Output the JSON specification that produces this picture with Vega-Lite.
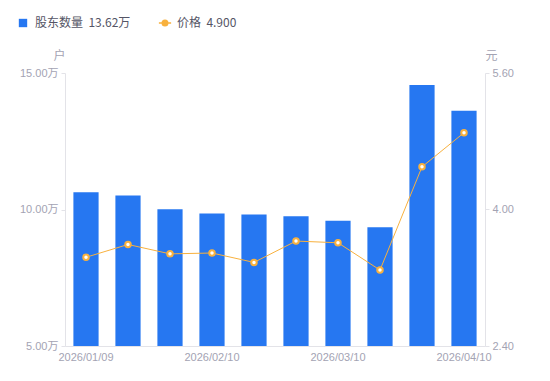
{
  "$schema": "https://vega.github.io/schema/vega-lite/v6.json",
  "autosize": {"type": "none"},
  "width": 420,
  "height": 273,
  "padding": {"left": 65, "top": 73, "right": 65, "bottom": 35},
  "background": "white",
  "config": {
    "view": {"stroke": null},
    "font": "Liberation Sans, Noto Sans CJK SC, sans-serif",
    "axis": {"labelFont": "Liberation Sans, Noto Sans CJK SC, sans-serif", "titleFont": "Noto Sans CJK SC, sans-serif"}
  },
  "data": {
    "values": [
      {"date": "2026/01/09", "holders": 10.63, "price": 3.44},
      {"date": "2026/01/20", "holders": 10.51, "price": 3.59},
      {"date": "2026/01/31", "holders": 10.01, "price": 3.48},
      {"date": "2026/02/10", "holders": 9.85, "price": 3.49},
      {"date": "2026/02/20", "holders": 9.82, "price": 3.38},
      {"date": "2026/02/28", "holders": 9.75, "price": 3.63},
      {"date": "2026/03/10", "holders": 9.59, "price": 3.61},
      {"date": "2026/03/20", "holders": 9.35, "price": 3.29},
      {"date": "2026/03/31", "holders": 14.56, "price": 4.50},
      {"date": "2026/04/10", "holders": 13.62, "price": 4.90}
    ]
  },
  "encoding": {
    "x": {
      "field": "date",
      "type": "ordinal",
      "sort": null,
      "scale": {"paddingInner": 0.4, "paddingOuter": 0.2},
      "axis": {
        "title": null,
        "values": ["2026/01/09", "2026/02/10", "2026/03/10", "2026/04/10"],
        "labelAngle": 0,
        "labelColor": "#a3a3b3",
        "labelFontSize": 11,
        "labelPadding": 5,
        "ticks": false,
        "domainColor": "#e3e3e8",
        "grid": false
      }
    }
  },
  "layer": [
    {
      "mark": {"type": "bar", "color": "#2677F1", "clip": true},
      "encoding": {
        "y": {
          "field": "holders",
          "type": "quantitative",
          "scale": {"domain": [5, 15], "zero": false, "nice": false},
          "axis": {
            "values": [5, 10, 15],
            "labelExpr": "format(datum.value, '.2f') + '万'",
            "labelColor": "#a3a3b3",
            "labelFontSize": 11,
            "labelPadding": 3,
            "tickSize": 4,
            "tickColor": "#e3e3e8",
            "domainColor": "#e3e3e8",
            "grid": false,
            "title": "户",
            "titleAngle": 0,
            "titleColor": "#a3a3b3",
            "titleFontSize": 12,
            "titleFontWeight": "normal",
            "titleX": -6,
            "titleY": -11,
            "titleAlign": "center"
          }
        },
        "color": {
          "datum": "股东数量  13.62万",
          "type": "nominal",
          "scale": {"domain": ["股东数量  13.62万", "价格  4.900"], "range": ["#2677F1", "#F8B13E"]},
          "legend": {
            "title": null,
            "orient": "none",
            "legendX": -48,
            "legendY": -56,
            "direction": "horizontal",
            "columnPadding": 24,
            "labelFontSize": 12,
            "labelColor": "#555566",
            "labelFont": "Noto Sans CJK SC, sans-serif",
            "labelOffset": 6,
            "symbolSize": 70,
            "encode": {
              "labels": {
                "update": {
                  "text": {"signal": "replace(datum.label, '  ', '\u00a0\u00a0')"}
                }
              },
              "symbols": {
                "update": {
                  "shape": {"signal": "datum.value == '价格  4.900' ? 'M-1,0H-0.45M0.45,0H1M0.45,0A0.45,0.45 0 1,1 -0.45,0A0.45,0.45 0 1,1 0.45,0Z' : 'square'"},
                  "fill": {"signal": "datum.value == '价格  4.900' ? '#ffffff' : '#2677F1'"},
                  "fillOpacity": {"value": 1},
                  "stroke": {"signal": "datum.value == '价格  4.900' ? '#F8B13E' : '#2677F1'"},
                  "strokeWidth": {"signal": "datum.value == '价格  4.900' ? 1.5 : 0"},
                  "size": {"signal": "datum.value == '价格  4.900' ? 150 : 70"}
                }
              }
            }
          }
        }
      }
    },
    {
      "mark": {"type": "line", "strokeWidth": 1, "color": "#F8B13E"},
      "encoding": {
        "y": {
          "field": "price",
          "type": "quantitative",
          "scale": {"domain": [2.4, 5.6], "zero": false, "nice": false},
          "axis": {
            "orient": "right",
            "values": [2.4, 4.0, 5.6],
            "format": ".2f",
            "labelColor": "#a3a3b3",
            "labelFontSize": 11,
            "labelPadding": 3,
            "tickSize": 4,
            "tickColor": "#e3e3e8",
            "domainColor": "#e3e3e8",
            "grid": false,
            "title": "元",
            "titleAngle": 0,
            "titleColor": "#a3a3b3",
            "titleFontSize": 12,
            "titleFontWeight": "normal",
            "titleX": 6,
            "titleY": -11,
            "titleAlign": "center"
          }
        },
        "color": {"datum": "价格  4.900", "type": "nominal"}
      }
    },
    {
      "mark": {"type": "point", "filled": true, "fill": "white", "stroke": "#F8B13E", "strokeWidth": 2, "size": 30, "opacity": 1},
      "encoding": {
        "y": {"field": "price", "type": "quantitative", "scale": {"domain": [2.4, 5.6], "zero": false, "nice": false}, "axis": null}
      }
    }
  ],
  "resolve": {"scale": {"y": "independent"}}
}
